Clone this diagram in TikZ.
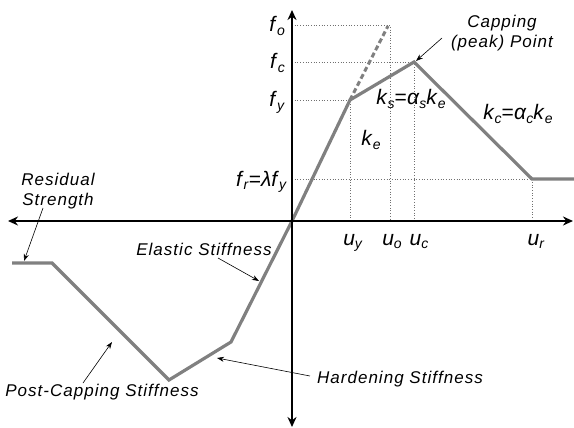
\documentclass[tikz,border=0pt]{standalone}
\usepackage{fontspec}
\setmainfont{Liberation Sans}
\newfontfamily\lblfont[LetterSpace=6]{Liberation Sans}
\usetikzlibrary{arrows.meta}
\definecolor{curvegray}{HTML}{808080}
\definecolor{guidegray}{HTML}{707070}
\newcommand{\sv}[2]{\textit{#1}\raisebox{-0.35ex}{\fontsize{14}{14}\selectfont\textit{#2}}}
\begin{document}
\begin{tikzpicture}[x=1pt,y=-1pt,
  axis/.style={line width=2.6pt,{Stealth[length=10pt,width=9pt]}-{Stealth[length=10pt,width=9pt]}},
  curve/.style={line width=3.2pt,color=curvegray,line join=miter},
  dashcurve/.style={line width=3pt,color=curvegray,dash pattern=on 5pt off 3pt},
  guide/.style={line width=0.7pt,dotted,color=guidegray},
  pointer/.style={line width=0.6pt,-{Stealth[length=7pt,width=5pt]}},
  lbl/.style={font=\lblfont\fontsize{17}{20}\selectfont\itshape,inner sep=0pt,align=center},
  sym/.style={font=\fontsize{21}{24}\selectfont,inner sep=0pt}
]
\useasboundingbox (0,0) rectangle (574,428);
% key points
\coordinate (O) at (292,221);
\coordinate (Y) at (350,100);
\coordinate (C) at (414,62);
\coordinate (R) at (532,179);
\coordinate (Rend) at (574,179);
\coordinate (H) at (231,342);
\coordinate (B) at (169,380);
\coordinate (L1) at (52,263);
\coordinate (L0) at (12,263);
\coordinate (D) at (388,26);
\coordinate (Fo) at (292,25);
\coordinate (Fc) at (292,62);
\coordinate (Fy) at (292,100);
\coordinate (Fr) at (292,179);
\coordinate (Uo) at (390,221);
\coordinate (Uy) at (350,221);
\coordinate (Uc) at (414,221);
\coordinate (Ur) at (532,221);
\coordinate (Ocorner) at (390,25);
% guides
\draw[guide] (Fo) -- (Ocorner) -- (Uo);
\draw[guide] (Fc) -- (C) -- (Uc);
\draw[guide] (Fy) -- (Y) -- (Uy);
\draw[guide] (Fr) -- (R) -- (Ur);
% curve
\draw[curve] (L0) -- (L1) -- (B) -- (H) -- (O) -- (Y) -- (C) -- (R) -- (Rend);
\draw[dashcurve] (Y) -- (D);
% axes
\coordinate (xl) at (8,221);
\coordinate (xr) at (573,221);
\coordinate (yt) at (292,10);
\coordinate (yb) at (292,427);
\draw[axis] (xl) -- (xr);
\draw[axis] (yb) -- (yt);
% axis labels
\node[sym,anchor=base east] (lfo) at (285,32) {\sv{f}{o}};
\node[sym,anchor=base east] (lfc) at (285,69) {\sv{f}{c}};
\node[sym,anchor=base east] (lfy) at (285,107) {\sv{f}{y}};
\node[sym,anchor=base east] (lfr) at (287,186) {\sv{f}{r}=\textit{λ}\sv{f}{y}};
\node[sym,anchor=base] (luy) at (353,245) {\sv{u}{y}};
\node[sym,anchor=base] (luo) at (392,245) {\sv{u}{o}};
\node[sym,anchor=base] (luc) at (419,245) {\sv{u}{c}};
\node[sym,anchor=base] (lur) at (536,245) {\sv{u}{r}};
\node[sym,anchor=base] (lke) at (371,146) {\sv{k}{e}};
\node[sym,anchor=base] (lks) at (411,105) {\sv{k}{s}=\sv{α}{s}\textit{k}\raisebox{-0.35ex}{\fontsize{14}{14}\selectfont\textit{e}}};
\node[sym,anchor=base] (lkc) at (518,120) {\sv{k}{c}=\sv{α}{c}\textit{k}\raisebox{-0.35ex}{\fontsize{14}{14}\selectfont\textit{e}}};
% text labels
\node[lbl] (cap) at (502,33) {Capping\\(peak) Point};
\node[lbl] (res) at (58,191) {Residual\\Strength};
\node[lbl] (ela) at (204,249) {Elastic Stiffness};
\node[lbl] (pcs) at (102,392) {Post-Capping Stiffness};
\node[lbl] (hard) at (400,379) {Hardening Stiffness};
% pointers
\coordinate (capP) at (416,61);
\coordinate (resP) at (24,261);
\coordinate (elaP) at (259,281);
\coordinate (pcsP) at (112,342);
\coordinate (hardP) at (217,358);
\draw[pointer] (442,38) -- (capP);
\draw[pointer] (43,208) -- (resP);
\draw[pointer] (218,258) -- (elaP);
\draw[pointer] (83,383) -- (pcsP);
\draw[pointer] (hard.west) ++(-7,-3) -- (hardP);
\end{tikzpicture}
\end{document}
